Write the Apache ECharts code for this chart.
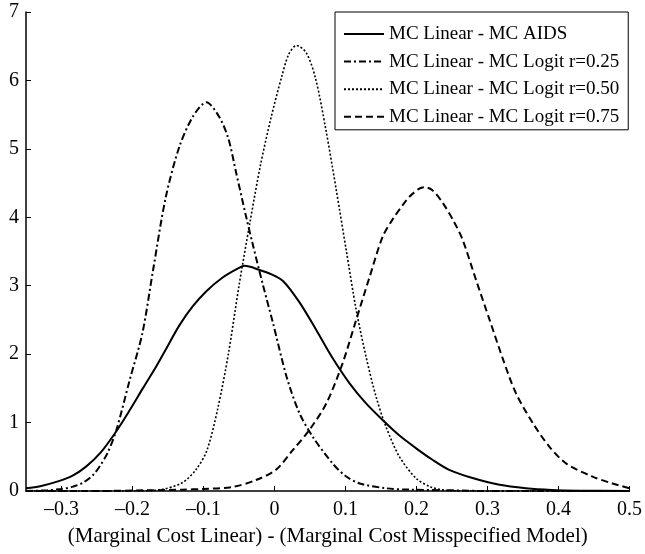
<!DOCTYPE html>
<html>
<head>
<meta charset="utf-8">
<script src="https://cdn.jsdelivr.net/npm/echarts@6/dist/echarts.min.js"></script>
<style>
  html, body { margin: 0; padding: 0; background: #fff; }
  #chart { width: 645px; height: 554px; }
</style>
</head>
<body>
<div id="chart"></div>
<script>
// density estimates: [x, density]
const aids = [
  [-0.35, 0.04], [-0.33, 0.07], [-0.305, 0.14], [-0.285, 0.22], [-0.265, 0.36],
  [-0.245, 0.56], [-0.223, 0.87], [-0.204, 1.18], [-0.1855, 1.5], [-0.1666, 1.82],
  [-0.1525, 2.08], [-0.134, 2.42], [-0.115, 2.7], [-0.096, 2.92], [-0.073, 3.12],
  [-0.05, 3.26], [-0.042, 3.29], [-0.021, 3.23], [-0.005, 3.17], [0.012, 3.07],
  [0.035, 2.76], [0.059, 2.35], [0.082, 1.94], [0.106, 1.57], [0.129, 1.28],
  [0.153, 1.03], [0.176, 0.81], [0.2, 0.62], [0.222, 0.46], [0.246, 0.31],
  [0.279, 0.19], [0.317, 0.09], [0.354, 0.04], [0.39, 0.015], [0.43, 0.005], [0.5, 0]
];
const logit25 = [
  [-0.35, 0], [-0.32, 0.01], [-0.3, 0.03], [-0.285, 0.06], [-0.27, 0.12],
  [-0.255, 0.24], [-0.245, 0.38], [-0.235, 0.56], [-0.223, 0.88], [-0.204, 1.62],
  [-0.186, 2.31], [-0.171, 3.23], [-0.153, 4.3], [-0.134, 5.03], [-0.115, 5.47],
  [-0.096, 5.68], [-0.078, 5.47], [-0.065, 5.15], [-0.054, 4.65], [-0.04, 4.01],
  [-0.031, 3.62], [-0.017, 3.04], [-0.002, 2.45], [0.017, 1.67], [0.035, 1.14],
  [0.054, 0.79], [0.082, 0.4], [0.1, 0.22], [0.12, 0.11], [0.157, 0.04],
  [0.19, 0.02], [0.25, 0.01], [0.3, 0], [0.5, 0]
];
const logit50 = [
  [-0.35, 0], [-0.25, 0], [-0.2, 0], [-0.16, 0.02], [-0.13, 0.12], [-0.11, 0.32],
  [-0.095, 0.6], [-0.08, 1.2], [-0.065, 2.0], [-0.05, 3.0], [-0.035, 3.9],
  [-0.02, 4.75], [-0.005, 5.45], [0.01, 6.05], [0.02, 6.38], [0.031, 6.51],
  [0.045, 6.4], [0.058, 6.02], [0.072, 5.3], [0.087, 4.4], [0.101, 3.52],
  [0.115, 2.65], [0.129, 1.96], [0.143, 1.38], [0.157, 0.94], [0.176, 0.5],
  [0.2, 0.18], [0.22, 0.06], [0.24, 0.01], [0.27, 0], [0.5, 0]
];
const logit75 = [
  [-0.35, 0], [-0.25, 0], [-0.18, 0.01], [-0.13, 0.02], [-0.1, 0.03], [-0.059, 0.06],
  [-0.026, 0.16], [0.002, 0.31], [0.026, 0.6], [0.049, 0.89], [0.073, 1.28],
  [0.096, 1.87], [0.115, 2.5], [0.134, 3.13], [0.1525, 3.72], [0.167, 3.98],
  [0.18, 4.17], [0.19, 4.3], [0.204, 4.42], [0.211, 4.44], [0.222, 4.4],
  [0.237, 4.21], [0.252, 3.95], [0.265, 3.67], [0.284, 3.08], [0.303, 2.5],
  [0.322, 1.92], [0.34, 1.43], [0.364, 0.99], [0.387, 0.65], [0.411, 0.4],
  [0.448, 0.21], [0.476, 0.11], [0.5, 0.04]
];
const seriesNames = [
  "MC Linear - MC AIDS",
  "MC Linear - MC Logit r=0.25",
  "MC Linear - MC Logit r=0.50",
  "MC Linear - MC Logit r=0.75"
];
const xTicks = [-0.3, -0.2, -0.1, 0, 0.1, 0.2, 0.3, 0.4, 0.5];
const xTitle = "(Marginal Cost Linear) - (Marginal Cost Misspecified Model)";

const font = "Liberation Serif";
const chart = echarts.init(document.getElementById("chart"));

const makeLine = (name, data, type, width) => ({
  name: name,
  type: "line",
  data: data,
  symbol: "none",
  smooth: 0.3,
  lineStyle: { color: "#000", width: width, type: type },
  itemStyle: { color: "#000" }
});

chart.setOption({
  animation: false,
  backgroundColor: "#fff",
  grid: { left: 26, right: 15, top: 12, bottom: 63 },
  legend: {
    left: 335,
    top: 12,
    orient: "vertical",
    backgroundColor: "#fff",
    borderColor: "#000",
    borderWidth: 1,
    borderRadius: 0,
    padding: [12, 9, 3, 8],
    itemWidth: 40,
    itemHeight: 14,
    itemGap: 7.6,
    itemTextGap: 7,
    itemStyle: { opacity: 0 },
    textStyle: { fontFamily: font, fontSize: 19, color: "#000", lineHeight: 20 },
    data: seriesNames
  },
  xAxis: {
    type: "value",
    min: -0.35,
    max: 0.5,
    name: xTitle,
    nameLocation: "middle",
    nameGap: 35,
    nameTextStyle: { fontFamily: font, fontSize: 21, color: "#000" },
    axisLine: { lineStyle: { color: "#000", width: 1.5 } },
    axisTick: { inside: true, length: 5, customValues: xTicks, lineStyle: { color: "#000" } },
    axisLabel: {
      customValues: xTicks,
      margin: 9,
      fontFamily: font,
      fontSize: 20,
      color: "#000",
      formatter: v => (v < 0 ? "\u2013" + Math.abs(v) : String(v))
    },
    splitLine: { show: false }
  },
  yAxis: {
    type: "value",
    min: 0,
    max: 7,
    interval: 1,
    axisLine: { show: true, onZero: false, lineStyle: { color: "#000", width: 1.5 } },
    axisTick: { show: true, inside: true, length: 5, lineStyle: { color: "#000" } },
    axisLabel: { margin: 7, fontFamily: font, fontSize: 20, color: "#000" },
    splitLine: { show: false }
  },
  series: [
    makeLine(seriesNames[0], aids, "solid", 2),
    makeLine(seriesNames[1], logit25, [7, 3, 2, 3], 2),
    makeLine(seriesNames[2], logit50, [2, 2], 1.6),
    makeLine(seriesNames[3], logit75, [7, 4], 2)
  ]
});
</script>
</body>
</html>
